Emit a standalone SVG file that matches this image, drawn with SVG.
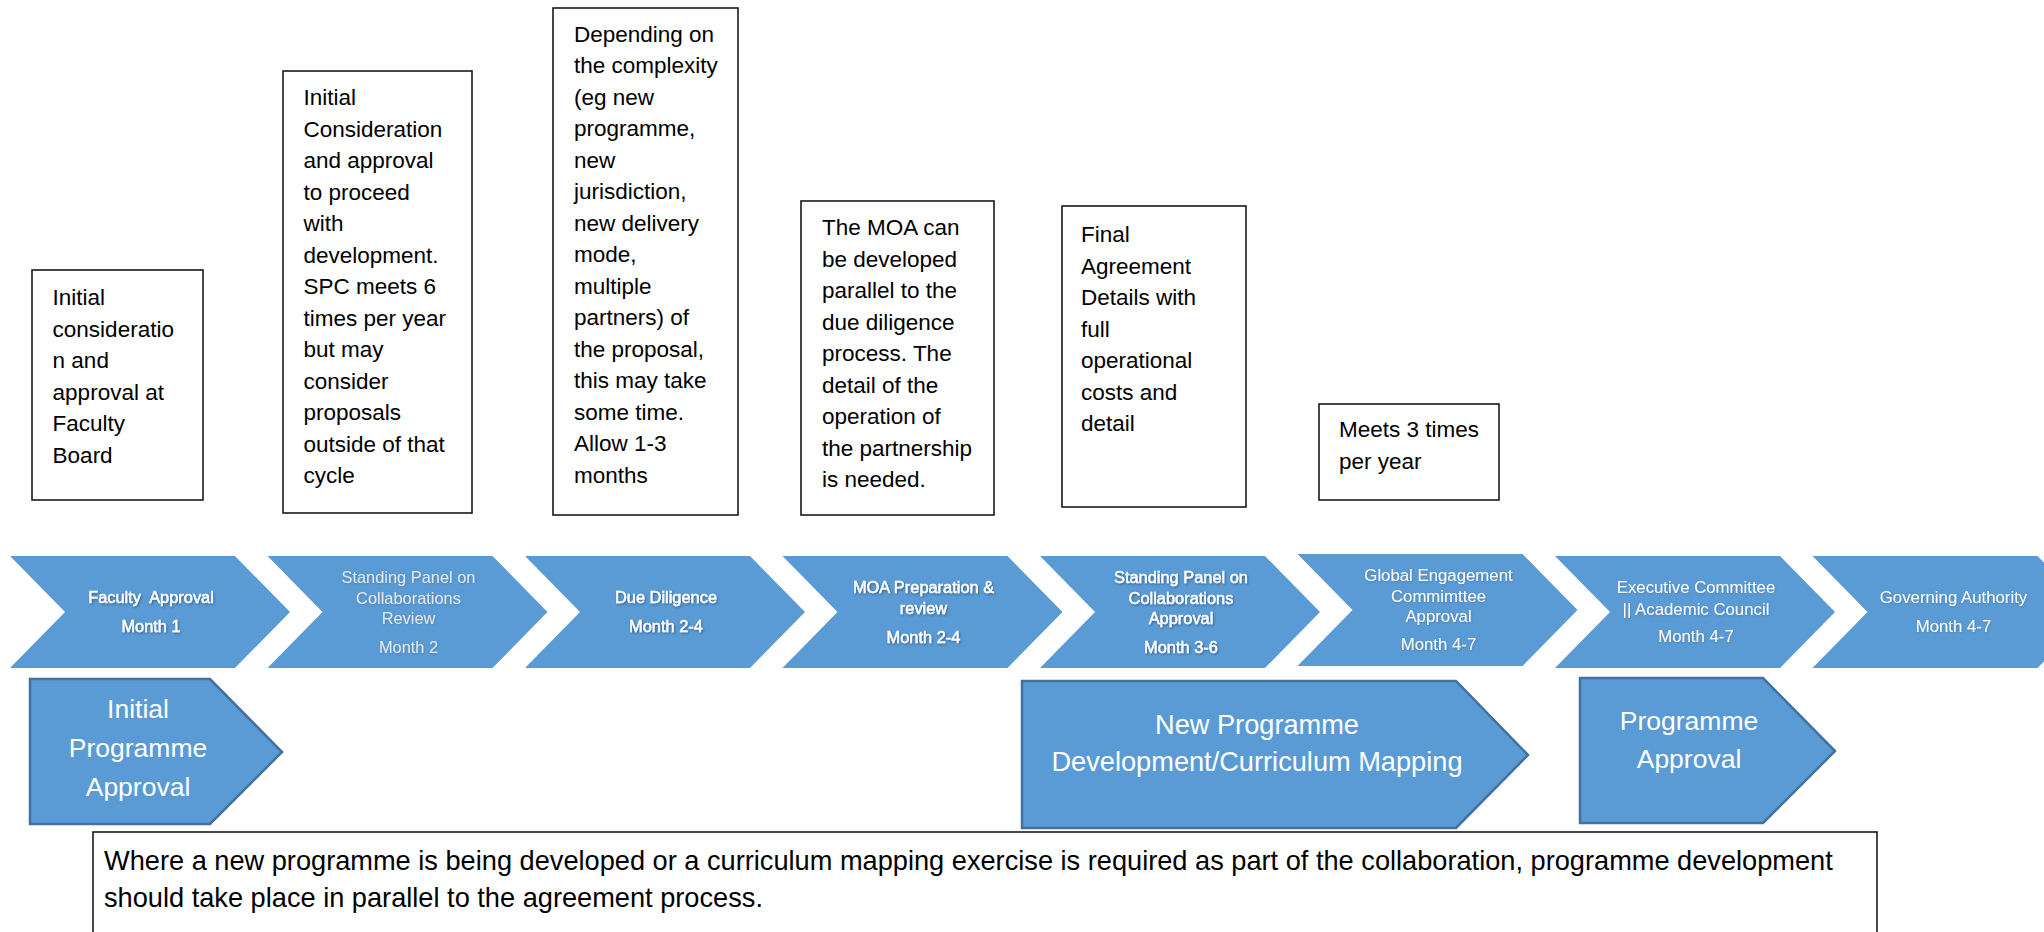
<svg xmlns="http://www.w3.org/2000/svg" width="2044" height="932" viewBox="0 0 2044 932">
<defs>
<filter id="tsh" x="-10%" y="-30%" width="120%" height="160%">
<feDropShadow dx="1" dy="1.2" stdDeviation="0.9" flood-color="#1f3b5a" flood-opacity="0.6"/>
</filter>
<filter id="tsl" x="-10%" y="-30%" width="120%" height="160%">
<feDropShadow dx="0.8" dy="1" stdDeviation="0.8" flood-color="#2a4a6a" flood-opacity="0.3"/>
</filter>
</defs>
<style>
.chev{fill:#5B9BD5;}
.pent{fill:#5B9BD5;stroke:#41719C;stroke-width:2.5;}
.box{fill:#fff;stroke:#1a1a1a;stroke-width:1.6;}
.bt{font-family:"Liberation Sans",Arial,sans-serif;font-size:22.5px;fill:#000;}
.cb{font-family:"Liberation Sans",Arial,sans-serif;font-size:16.4px;fill:#fff;stroke:#fff;stroke-width:0.45;text-anchor:middle;filter:url(#tsh);}
.cr{font-family:"Liberation Sans",Arial,sans-serif;font-size:16.8px;fill:#fff;text-anchor:middle;filter:url(#tsl);}
.cg{font-family:"Liberation Sans",Arial,sans-serif;font-size:16.4px;fill:#E4E9EE;text-anchor:middle;filter:url(#tsl);}
.pt{font-family:"Liberation Sans",Arial,sans-serif;font-size:26.5px;fill:#fff;text-anchor:middle;}
.nt{font-family:"Liberation Sans",Arial,sans-serif;font-size:27.2px;fill:#000;}
</style>

<g id="note-faculty-board">
<rect class="box" x="32" y="270" width="171" height="230"/>
<text class="bt"><tspan x="52.6" y="305">Initial</tspan><tspan x="52.6" y="336.5">consideratio</tspan><tspan x="52.6" y="368">n and</tspan><tspan x="52.6" y="399.5">approval at</tspan><tspan x="52.6" y="431">Faculty</tspan><tspan x="52.6" y="462.5">Board</tspan></text>
</g>

<g id="note-spc-review">
<rect class="box" x="283" y="71" width="189" height="442"/>
<text class="bt"><tspan x="303.5" y="105">Initial</tspan><tspan x="303.5" y="136.5">Consideration</tspan><tspan x="303.5" y="168">and approval</tspan><tspan x="303.5" y="199.5">to proceed</tspan><tspan x="303.5" y="231">with</tspan><tspan x="303.5" y="262.5">development.</tspan><tspan x="303.5" y="294">SPC meets 6</tspan><tspan x="303.5" y="325.5">times per year</tspan><tspan x="303.5" y="357">but may</tspan><tspan x="303.5" y="388.5">consider</tspan><tspan x="303.5" y="420">proposals</tspan><tspan x="303.5" y="451.5">outside of that</tspan><tspan x="303.5" y="483">cycle</tspan></text>
</g>

<g id="note-due-diligence">
<rect class="box" x="553" y="8" width="185" height="507"/>
<text class="bt"><tspan x="574" y="41.7">Depending on</tspan><tspan x="574" y="73.2">the complexity</tspan><tspan x="574" y="104.7">(eg new</tspan><tspan x="574" y="136.2">programme,</tspan><tspan x="574" y="167.7">new</tspan><tspan x="574" y="199.2">jurisdiction,</tspan><tspan x="574" y="230.7">new delivery</tspan><tspan x="574" y="262.2">mode,</tspan><tspan x="574" y="293.7">multiple</tspan><tspan x="574" y="325.2">partners) of</tspan><tspan x="574" y="356.7">the proposal,</tspan><tspan x="574" y="388.2">this may take</tspan><tspan x="574" y="419.7">some time.</tspan><tspan x="574" y="451.2">Allow 1-3</tspan><tspan x="574" y="482.7">months</tspan></text>
</g>

<g id="note-moa">
<rect class="box" x="801" y="201" width="193" height="314"/>
<text class="bt"><tspan x="822" y="235">The MOA can</tspan><tspan x="822" y="266.5">be developed</tspan><tspan x="822" y="298">parallel to the</tspan><tspan x="822" y="329.5">due diligence</tspan><tspan x="822" y="361">process. The</tspan><tspan x="822" y="392.5">detail of the</tspan><tspan x="822" y="424">operation of</tspan><tspan x="822" y="455.5">the partnership</tspan><tspan x="822" y="487">is needed.</tspan></text>
</g>

<g id="note-final-agreement">
<rect class="box" x="1062" y="206" width="184" height="301"/>
<text class="bt"><tspan x="1081" y="242">Final</tspan><tspan x="1081" y="273.5">Agreement</tspan><tspan x="1081" y="305">Details with</tspan><tspan x="1081" y="336.5">full</tspan><tspan x="1081" y="368">operational</tspan><tspan x="1081" y="399.5">costs and</tspan><tspan x="1081" y="431">detail</tspan></text>
</g>

<g id="note-meets">
<rect class="box" x="1319" y="404" width="180" height="96"/>
<text class="bt"><tspan x="1339" y="437">Meets 3 times</tspan><tspan x="1339" y="468.5">per year</tspan></text>
</g>

<g id="step-faculty-approval">
<polygon class="chev" points="10,556 235,556 290,612 235,668 10,668 65,612"/>
<text class="cb"><tspan x="151" y="603">Faculty&#160; Approval</tspan><tspan x="151" y="632">Month 1</tspan></text>
</g>

<g id="step-spc-review">
<polygon class="chev" points="267.5,556 492.5,556 547.5,612 492.5,668 267.5,668 322.5,612"/>
<text class="cg"><tspan x="408.5" y="583">Standing Panel on</tspan><tspan x="408.5" y="603.5">Collaborations</tspan><tspan x="408.5" y="624">Review</tspan><tspan x="408.5" y="652.5">Month 2</tspan></text>
</g>

<g id="step-due-diligence">
<polygon class="chev" points="525,556 750,556 805,612 750,668 525,668 580,612"/>
<text class="cb"><tspan x="666" y="603">Due Diligence</tspan><tspan x="666" y="632">Month 2-4</tspan></text>
</g>

<g id="step-moa">
<polygon class="chev" points="782.5,556 1007.5,556 1062.5,612 1007.5,668 782.5,668 837.5,612"/>
<text class="cb"><tspan x="923.5" y="593">MOA Preparation &amp;</tspan><tspan x="923.5" y="614">review</tspan><tspan x="923.5" y="643">Month 2-4</tspan></text>
</g>

<g id="step-spc-approval">
<polygon class="chev" points="1040,556 1265,556 1320,612 1265,668 1040,668 1095,612"/>
<text class="cb"><tspan x="1181" y="583">Standing Panel on</tspan><tspan x="1181" y="603.5">Collaborations</tspan><tspan x="1181" y="624">Approval</tspan><tspan x="1181" y="652.5">Month 3-6</tspan></text>
</g>

<g id="step-global-engagement">
<polygon class="chev" points="1297.5,554 1522.5,554 1577.5,610 1522.5,666 1297.5,666 1352.5,610"/>
<text class="cr"><tspan x="1438.5" y="580.5">Global Engagement</tspan><tspan x="1438.5" y="601.5">Commimttee</tspan><tspan x="1438.5" y="622">Approval</tspan><tspan x="1438.5" y="650">Month 4-7</tspan></text>
</g>

<g id="step-executive-committee">
<polygon class="chev" points="1555,556 1780,556 1835,612 1780,668 1555,668 1610,612"/>
<text class="cr"><tspan x="1696" y="593">Executive Committee</tspan><tspan x="1696" y="614.5">|| Academic Council</tspan><tspan x="1696" y="641.5">Month 4-7</tspan></text>
</g>

<g id="step-governing-authority">
<polygon class="chev" points="1812.5,556 2037.5,556 2092.5,612 2037.5,668 1812.5,668 1867.5,612"/>
<text class="cr"><tspan x="1953.5" y="603">Governing Authority</tspan><tspan x="1953.5" y="631.5">Month 4-7</tspan></text>
</g>

<g id="initial-programme-approval">
<polygon class="pent" points="30,679 210,679 282,752 210,824 30,824"/>
<text class="pt"><tspan x="138" y="718">Initial</tspan><tspan x="138" y="757">Programme</tspan><tspan x="138" y="795.5">Approval</tspan></text>
</g>

<g id="new-programme-development">
<polygon class="pent" points="1022,681 1456,681 1528,755 1456,828 1022,828"/>
<text class="pt" style="font-size:27.2px"><tspan x="1257" y="734">New Programme</tspan><tspan x="1257" y="771">Development/Curriculum Mapping</tspan></text>
</g>

<g id="programme-approval">
<polygon class="pent" points="1580,678 1763,678 1835,751 1763,823 1580,823"/>
<text class="pt"><tspan x="1689" y="730">Programme</tspan><tspan x="1689" y="768">Approval</tspan></text>
</g>

<g id="parallel-note">
<rect class="box" x="93" y="832" width="1784" height="120"/>
<text class="nt"><tspan x="104" y="870">Where a new programme is being developed or a curriculum mapping exercise is required as part of the collaboration, programme development</tspan><tspan x="104" y="907">should take place in parallel to the agreement process.</tspan></text>
</g>
</svg>
